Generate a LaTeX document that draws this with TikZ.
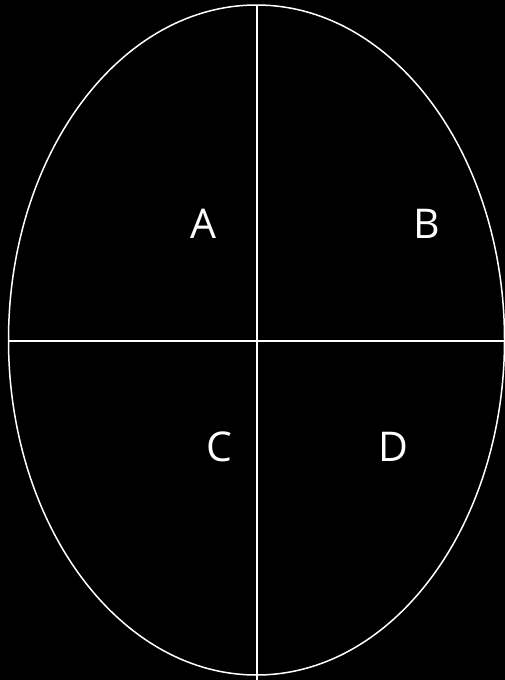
\documentclass[tikz,border=0pt]{standalone}
\usepackage{fontspec}
\setmainfont{Open Sans}
\begin{document}
\begin{tikzpicture}[x=1pt,y=-1pt,
  line/.style={draw=white,line width=1.5pt},
  lbl/.style={text=white,font=\fontsize{41}{41}\selectfont,inner sep=0pt,anchor=center}]
\fill[black] (0,0) rectangle (505,680);
\useasboundingbox (0,0) rectangle (505,680);
\draw[line] (256.5,340) ellipse [x radius=248, y radius=335];
\coordinate (top) at (257,6);
\coordinate (bot) at (257,680);
\coordinate (lft) at (8,341);
\coordinate (rgt) at (505,341);
\draw[line] (top) -- (bot);
\draw[line] (lft) -- (rgt);
\node[lbl] (A) at (203,224) {A};
\node[lbl] (B) at (427,224) {B};
\node[lbl] (C) at (219,447) {C};
\node[lbl] (D) at (393,447) {D};
\end{tikzpicture}
\end{document}
